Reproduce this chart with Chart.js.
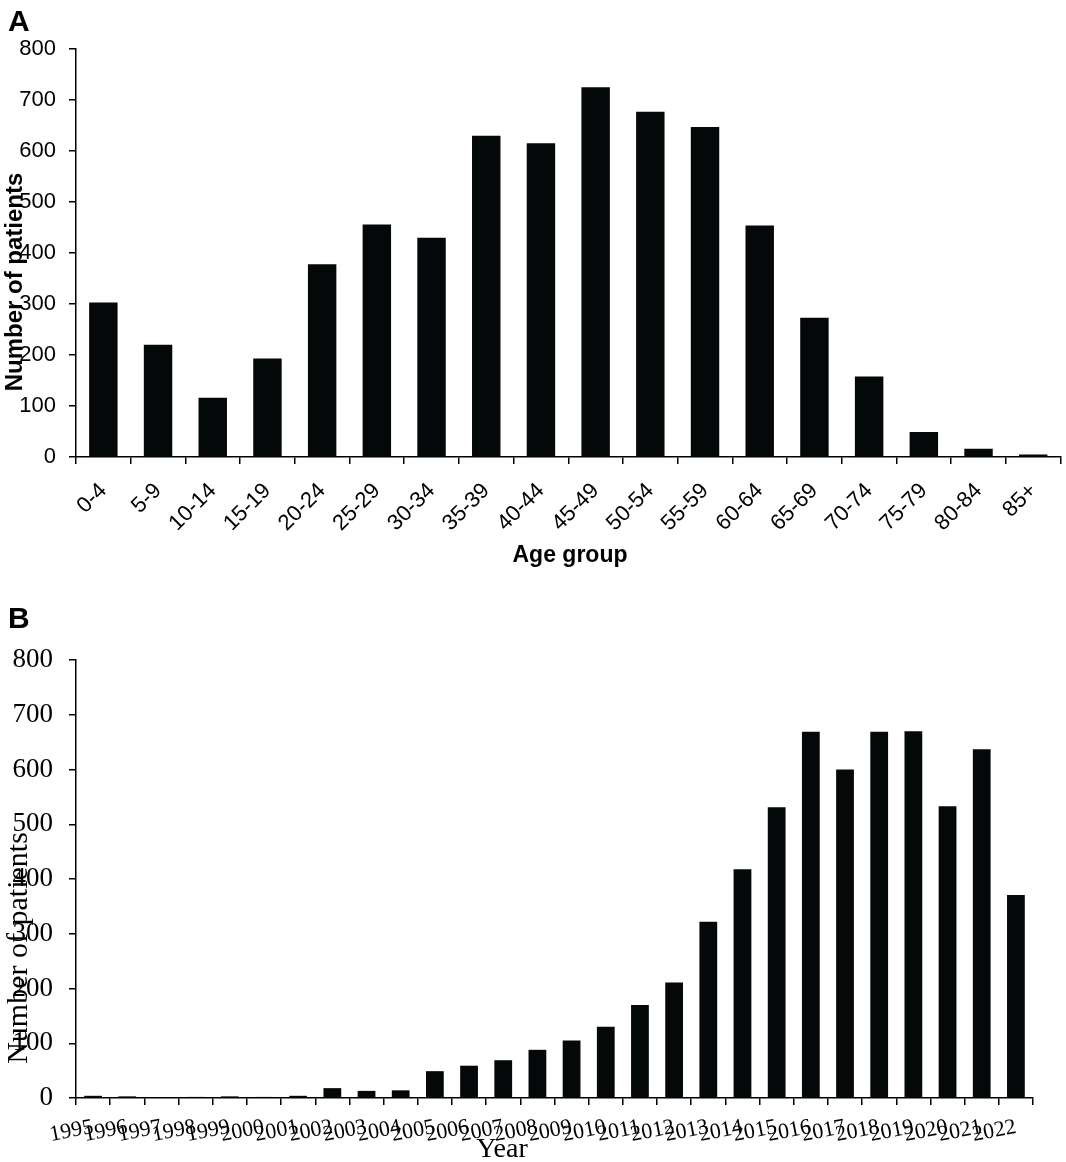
<!DOCTYPE html>
<html>
<head>
<meta charset="utf-8">
<script src="https://cdn.jsdelivr.net/npm/chart.js@4.4.1/dist/chart.umd.min.js"></script>
<style>
  html, body { margin: 0; padding: 0; background: #fff; }
  #wrap { position: relative; width: 1066px; height: 1162px; background: #fff; }
  canvas { position: absolute; left: 0; }
  #cA { top: 0; }
  #cB { top: 600px; }
</style>
</head>
<body>
<div id="wrap">
  <canvas id="cA" width="1066" height="600"></canvas>
  <canvas id="cB" width="1066" height="562"></canvas>
</div>
<script>
// ---------- Data ----------
const ageGroups = ['0-4','5-9','10-14','15-19','20-24','25-29','30-34','35-39','40-44','45-49','50-54','55-59','60-64','65-69','70-74','75-79','80-84','85+'];
const agePatients = [303, 220, 116, 193, 378, 456, 430, 630, 615, 725, 677, 647, 454, 273, 158, 49, 16, 5];

const years = ['1995','1996','1997','1998','1999','2000','2001','2002','2003','2004','2005','2006','2007','2008','2009','2010','2011','2012','2013','2014','2015','2016','2017','2018','2019','2020','2021','2022'];
const yearPatients = [4, 3, 0, 2, 3, 2, 4, 18, 13, 14, 49, 59, 69, 88, 105, 130, 170, 211, 322, 418, 531, 669, 600, 669, 670, 533, 637, 371];

const yMin = 0, yMax = 800, yStep = 100;

const titleA = { letter: 'A', x: 'Age group', y: 'Number of patients' };
const titleB = { letter: 'B', x: 'Year', y: 'Number of patients' };

// ---------- Styling ----------
const SANS = '"Liberation Sans", Arial, Helvetica, sans-serif';
const SERIF = '"Liberation Serif", "Times New Roman", Times, serif';
const BAR = '#040808';

const textPlugin = {
  id: 'panelText',
  afterDraw(chart, args, opts) {
    const ctx = chart.ctx;
    (opts.items || []).forEach(it => {
      ctx.save();
      ctx.font = it.font;
      ctx.fillStyle = '#000';
      ctx.textAlign = it.align || 'center';
      ctx.textBaseline = 'alphabetic';
      ctx.translate(it.x, it.y);
      if (it.rot) ctx.rotate(it.rot);
      ctx.fillText(it.text, 0, 0);
      ctx.restore();
    });
  }
};

function axisCommon(font, pad) {
  return {
    border: { display: true, color: '#000', width: 1.5 },
    grid: { display: true, drawOnChartArea: false, drawTicks: true, tickLength: 7, color: '#000', lineWidth: 1.5 },
    ticks: { color: '#000', font: font, padding: pad }
  };
}

// ---------- Panel A ----------
const yA = axisCommon({ family: SANS, size: 22 }, 13);
yA.min = yMin; yA.max = yMax;
yA.ticks.stepSize = yStep;
yA.afterFit = s => { s.width = 76; };

const xA = axisCommon({ family: SANS, size: 22 }, 14);
xA.ticks.minRotation = 45;
xA.ticks.maxRotation = 45;
xA.ticks.autoSkip = false;
xA.afterFit = s => { s.height = 143; };

new Chart(document.getElementById('cA'), {
  type: 'bar',
  data: {
    labels: ageGroups,
    datasets: [{ data: agePatients, backgroundColor: BAR, borderWidth: 0, barPercentage: 0.52, categoryPercentage: 1.0 }]
  },
  options: {
    responsive: false,
    animation: false,
    layout: { padding: { left: 0, top: 49, right: 4, bottom: 0 } },
    plugins: {
      legend: { display: false },
      tooltip: { enabled: false },
      panelText: {
        items: [
          { text: titleA.letter, font: 'bold 30px ' + SANS, x: 8, y: 31, align: 'left' },
          { text: titleA.y, font: 'bold 24px ' + SANS, x: 22, y: 282, rot: -Math.PI / 2 },
          { text: titleA.x, font: 'bold 23px ' + SANS, x: 570, y: 562 }
        ]
      }
    },
    scales: { x: xA, y: yA }
  },
  plugins: [textPlugin]
});

// ---------- Panel B ----------
const yB = axisCommon({ family: SERIF, size: 27 }, 16);
yB.min = yMin; yB.max = yMax;
yB.ticks.stepSize = yStep;
yB.afterFit = s => { s.width = 76; };

const xB = axisCommon({ family: SERIF, size: 22 }, 9);
xB.ticks.minRotation = 11;
xB.ticks.maxRotation = 11;
xB.ticks.autoSkip = false;
xB.afterFit = s => { s.height = 64; };

new Chart(document.getElementById('cB'), {
  type: 'bar',
  data: {
    labels: years,
    datasets: [{ data: yearPatients, backgroundColor: BAR, borderWidth: 0, barPercentage: 0.52, categoryPercentage: 1.0 }]
  },
  options: {
    responsive: false,
    animation: false,
    layout: { padding: { left: 0, top: 60, right: 33, bottom: 0 } },
    plugins: {
      legend: { display: false },
      tooltip: { enabled: false },
      panelText: {
        items: [
          { text: titleB.letter, font: 'bold 30px ' + SANS, x: 8, y: 28, align: 'left' },
          { text: titleB.y, font: '30px ' + SERIF, x: 27, y: 348, rot: -Math.PI / 2 },
          { text: titleB.x, font: '28px ' + SERIF, x: 502, y: 557 }
        ]
      }
    },
    scales: { x: xB, y: yB }
  },
  plugins: [textPlugin]
});
</script>
</body>
</html>
